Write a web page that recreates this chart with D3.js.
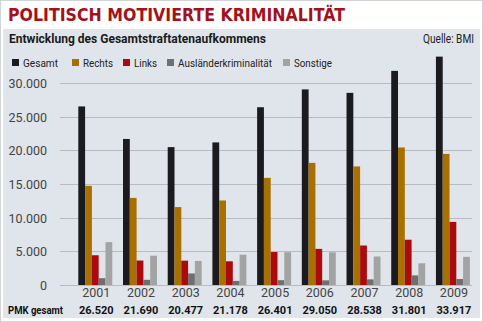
<!DOCTYPE html>
<html><head><meta charset="utf-8">
<script src="https://cdn.jsdelivr.net/npm/d3@7"></script>
<style>body{margin:0;background:#fff}svg{display:block}</style>
</head><body><svg id="c" width="483" height="322"></svg>
<script>
const years = ["2001","2002","2003","2004","2005","2006","2007","2008","2009"];
const seriesNames = ["Gesamt","Rechts","Links","Ausländerkriminalität","Sonstige"];
const gesamt = [26520,21690,20477,21178,26401,29050,28538,31801,33917];
const rechts = [14725,12933,11576,12553,15914,18142,17607,20422,19468];
const links = [4418,3633,3614,3521,4898,5363,5866,6724,9375];
const auslaender = [1012,772,1714,606,715,690,838,1426,888];
const sonstige = [6365,4352,3573,4498,4874,4855,4227,3229,4186];
const yTicks = [0,5000,10000,15000,20000,25000,30000];
const pmkLabels = ["26.520","21.690","20.477","21.178","26.401","29.050","28.538","31.801","33.917"];
const colors = ["#1b1a1f","#a87000","#ab0a0f","#6f6f6f","#a3a3a3"];

const allSeries = [gesamt, rechts, links, auslaender, sonstige];
const svg = d3.select("#c");
const font = "'Liberation Sans Narrow','Roboto','Liberation Sans',sans-serif";

// panel
svg.append("rect").attr("x",0.5).attr("y",0.5).attr("width",482).attr("height",321).attr("fill","#fff").attr("stroke","#d0d4d8");
svg.append("rect").attr("x",3).attr("y",29).attr("width",477).attr("height",289).attr("fill","#dfe5eb");

// title
svg.append("text").attr("x",8).attr("y",21).text("POLITISCH MOTIVIERTE KRIMINALITÄT")
  .attr("font-family","'DejaVu Sans',sans-serif").attr("font-weight","bold").attr("font-size",18)
  .attr("fill","#a3121a").attr("textLength",337).attr("lengthAdjust","spacingAndGlyphs");
svg.append("text").attr("x",9).attr("y",43).text("Entwicklung des Gesamtstraftatenaufkommens")
  .attr("font-family",font).attr("font-weight","bold").attr("font-size",13.5)
  .attr("fill","#1a1a1a").attr("textLength",257).attr("lengthAdjust","spacingAndGlyphs");
svg.append("text").attr("x",474).attr("y",43).attr("text-anchor","end").text("Quelle: BMI")
  .attr("font-family",font).attr("font-size",12).attr("fill","#222")
  .attr("textLength",51).attr("lengthAdjust","spacingAndGlyphs");

// scales
const y = d3.scaleLinear().domain([0,30000]).range([285,83]);
const x = d3.scaleBand().domain(years).range([78.3,469.9]).paddingInner(0.24).paddingOuter(0);
const xs = d3.scaleBand().domain(seriesNames).range([0,x.bandwidth()]);

// grid
const g = svg.append("g");
g.selectAll("line.grid").data(yTicks).join("line")
  .attr("x1",60).attr("x2",472).attr("y1",d=>Math.round(y(d))+0.5).attr("y2",d=>Math.round(y(d))+0.5)
  .attr("stroke","#b7bcc2").attr("stroke-width",1);

// y axis labels via d3 axis
const yAxis = d3.axisLeft(y).tickValues(yTicks).tickSize(0).tickPadding(0)
  .tickFormat(d=> d===0 ? "0" : d3.format(",")(d).replace(/,/g,"."));
const ya = svg.append("g").attr("transform","translate(47,0)").call(yAxis);
ya.select(".domain").remove();
ya.selectAll("text").attr("font-family",font).attr("font-size",12.5).attr("fill","#444").attr("dy","0.35em");

// bars
seriesNames.forEach((s,si)=>{
  svg.append("g").selectAll("rect").data(years).join("rect")
    .attr("x",d=>x(d)+xs(s)).attr("width",xs.bandwidth())
    .attr("y",(d,i)=>y(allSeries[si][i])).attr("height",(d,i)=>y(0)-y(allSeries[si][i]))
    .attr("fill",colors[si]);
});

// x axis labels
const xAxis = d3.axisBottom(x).tickSize(0).tickPadding(0);
const xa = svg.append("g").attr("transform","translate(1,288)").call(xAxis);
xa.select(".domain").remove();
xa.selectAll("text").attr("font-family",font).attr("font-size",12.5).attr("fill","#444").attr("dy","0.71em");

// PMK gesamt row
svg.append("text").attr("x",8).attr("y",314).text("PMK gesamt")
  .attr("font-family",font).attr("font-weight","bold").attr("font-size",10.5).attr("fill","#111")
  .attr("textLength",55).attr("lengthAdjust","spacingAndGlyphs");
svg.append("g").selectAll("text").data(years).join("text")
  .attr("x",d=>x(d)+x.bandwidth()/2+1).attr("y",314).attr("text-anchor","middle")
  .text((d,i)=>pmkLabels[i])
  .attr("font-family",font).attr("font-weight","bold").attr("font-size",11).attr("fill","#111");

// legend
const legX = [12,72,123,167,283];
const legW = [35,30,23,94,38];
const lg = svg.append("g");
seriesNames.forEach((s,i)=>{
  lg.append("rect").attr("x",legX[i]).attr("y",59).attr("width",7).attr("height",7).attr("fill",colors[i]);
  lg.append("text").attr("x",legX[i]+11).attr("y",66.5).text(s)
    .attr("font-family",font).attr("font-size",11.5).attr("fill","#222")
    .attr("textLength",legW[i]).attr("lengthAdjust","spacingAndGlyphs");
});
</script></body></html>
